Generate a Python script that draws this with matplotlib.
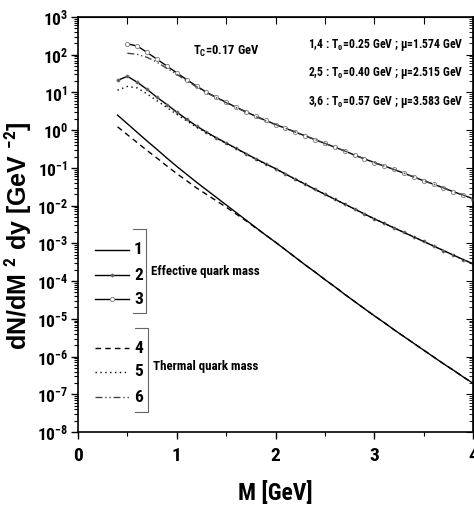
import numpy as np
import matplotlib
matplotlib.use("Agg")
import matplotlib.pyplot as plt
from matplotlib.lines import Line2D
from matplotlib.ticker import LogLocator, NullFormatter, MultipleLocator
from matplotlib import font_manager as fm

# look for a condensed sans face, else fall back to Liberation Sans and shrink the text
names = {f.name for f in fm.fontManager.ttflist}
narrow = next((n for n in ['Liberation Sans Narrow', 'Roboto Condensed', 'Open Sans Condensed',
                           'DejaVu Sans Condensed', 'Noto Sans Condensed'] if n in names), None)
face = narrow or 'Liberation Sans'
k = 1.0 if narrow else 0.82

plt.rcParams['font.family'] = [face, 'DejaVu Sans']
plt.rcParams['font.weight'] = 'bold'
plt.rcParams['mathtext.fontset'] = 'custom'
plt.rcParams['mathtext.bf'] = face + ':bold'
plt.rcParams['mathtext.rm'] = face + ':bold'
plt.rcParams['mathtext.default'] = 'bf'

# invariant mass grid [GeV]
M_a = [0.4, 0.5, 0.6, 0.7, 0.8, 0.9, 1.0, 1.1, 1.2, 1.3, 1.4, 1.5, 1.6, 1.7, 1.8, 1.9,
       2.0, 2.1, 2.2, 2.3, 2.4, 2.5, 2.6, 2.7, 2.8, 2.9, 3.0, 3.1, 3.2, 3.3, 3.4, 3.5,
       3.6, 3.7, 3.8, 3.9, 4.0]
M_b = M_a[1:]

# log10(dN/dM^2 dy)
lg1 = [0.40, 0.17, -0.06, -0.29, -0.51, -0.74, -0.96, -1.17, -1.38, -1.58, -1.78, -1.98,
       -2.18, -2.38, -2.58, -2.78, -2.97, -3.17, -3.37, -3.57, -3.76, -3.96, -4.15, -4.35,
       -4.54, -4.73, -4.92, -5.10, -5.29, -5.47, -5.65, -5.83, -6.01, -6.19, -6.36, -6.54, -6.71]
lg2 = [1.32, 1.43, 1.27, 1.08, 0.87, 0.68, 0.48, 0.29, 0.11, -0.05, -0.20, -0.34,
       -0.48, -0.62, -0.76, -0.89, -1.02, -1.16, -1.30, -1.43, -1.57, -1.70, -1.83, -1.96,
       -2.09, -2.22, -2.35, -2.47, -2.59, -2.71, -2.83, -2.95, -3.07, -3.19, -3.31, -3.43, -3.54]
lg3 = [2.29, 2.23, 2.06, 1.88, 1.70, 1.52, 1.34, 1.17, 1.01, 0.87, 0.74,
       0.61, 0.49, 0.37, 0.26, 0.15, 0.05, -0.05, -0.15, -0.25, -0.35, -0.45, -0.55,
       -0.66, -0.76, -0.86, -0.95, -1.04, -1.14, -1.24, -1.34, -1.43, -1.53, -1.63, -1.72, -1.82]
lg4 = [0.09, -0.12, -0.33, -0.54, -0.74, -0.95, -1.15, -1.34, -1.53, -1.70, -1.87, -2.04,
       -2.22, -2.40, -2.59, -2.78, -2.97, -3.17, -3.37, -3.57, -3.76, -3.96, -4.15, -4.35,
       -4.54, -4.73, -4.92, -5.10, -5.29, -5.47, -5.65, -5.83, -6.01, -6.19, -6.36, -6.54, -6.71]
lg5 = [1.06, 1.16, 1.12, 0.96, 0.78, 0.60, 0.42, 0.25, 0.08, -0.07, -0.21, -0.35,
       -0.49, -0.63, -0.77, -0.90, -1.02, -1.16, -1.30, -1.43, -1.57, -1.70, -1.83, -1.96,
       -2.09, -2.22, -2.35, -2.47, -2.59, -2.71, -2.83, -2.95, -3.07, -3.19, -3.31, -3.43, -3.54]
lg6 = [2.04, 2.01, 1.93, 1.80, 1.64, 1.48, 1.31, 1.15, 1.00, 0.86, 0.73,
       0.60, 0.48, 0.36, 0.25, 0.15, 0.05, -0.05, -0.15, -0.25, -0.35, -0.45, -0.55,
       -0.66, -0.76, -0.86, -0.95, -1.04, -1.14, -1.24, -1.34, -1.43, -1.53, -1.63, -1.72, -1.82]

labels = ['1', '2', '3', '4', '5', '6']
notes = [r'1,4 : T$_{0}$=0.25 GeV ; $\mu$=1.574 GeV',
         r'2,5 : T$_{0}$=0.40 GeV ; $\mu$=2.515 GeV',
         r'3,6 : T$_{0}$=0.57 GeV ; $\mu$=3.583 GeV']

fig = plt.figure(figsize=(4.74, 5.11), dpi=100)
ax = fig.add_axes([0.1646, 0.1546, 0.8334, 0.8121])

lw = 1.0
styles = [
    dict(color='black', lw=lw),
    dict(color='black', lw=lw, marker='o', ms=2.2, mfc='#555555', mec='#777777', mew=0.5),
    dict(color='black', lw=lw, marker='o', ms=3, mfc='white', mec='#888888', mew=0.7),
    dict(color='black', lw=lw, ls=(0, (4, 3))),
    dict(color='black', lw=lw, ls=(0, (1, 2.5))),
    dict(color='#444444', lw=lw, ls=(0, (5, 2, 1, 2, 1, 2))),
]
series = [(M_a, lg1), (M_a, lg2), (M_b, lg3), (M_a, lg4), (M_a, lg5), (M_b, lg6)]
for (m, lg), st in zip(series, styles):
    ax.plot(m, 10 ** np.array(lg), **st)

ax.set_yscale('log')
ax.set_xlim(0, 4)
ax.set_ylim(1e-8, 1e3)
ax.xaxis.set_major_locator(MultipleLocator(1))
ax.xaxis.set_minor_locator(MultipleLocator(0.5))
ax.yaxis.set_major_locator(LogLocator(base=10, numticks=20))
ax.yaxis.set_minor_locator(LogLocator(base=10, subs=np.arange(2, 10), numticks=200))
ax.yaxis.set_minor_formatter(NullFormatter())
ax.tick_params(axis='both', which='both', direction='out', top=False, right=False)
ax.tick_params(axis='both', which='major', length=5, width=1)
ax.tick_params(axis='both', which='minor', length=3, width=0.8)
ax.tick_params(axis='x', labelsize=14 * k, pad=6)
ax.tick_params(axis='y', labelsize=12.5 * k, pad=2)
# mirrored inward ticks on top / right
axt = ax.secondary_xaxis('top')
axt.xaxis.set_major_locator(MultipleLocator(0.5))
axt.tick_params(direction='in', length=5, labeltop=False)
axr = ax.secondary_yaxis('right')
axr.yaxis.set_major_locator(LogLocator(base=10, numticks=20))
axr.yaxis.set_minor_locator(LogLocator(base=10, subs=np.arange(2, 10), numticks=200))
axr.yaxis.set_minor_formatter(NullFormatter())
axr.tick_params(which='major', direction='in', length=5, labelright=False)
axr.tick_params(which='minor', direction='in', length=3)
for s in ax.spines.values():
    s.set_linewidth(1.2)

ax.set_xlabel('M [GeV]', fontsize=17 * k, fontweight='bold')
ax.xaxis.set_label_coords(0.5, -0.118)
# y label in the wide face, like the reference
ax.set_ylabel(r'dN/dM $^{2}$ dy [GeV $^{-2}$]', fontsize=18, fontweight='bold',
              family=['Liberation Sans', 'DejaVu Sans'])
ax.yaxis.set_label_coords(-0.112, 0.472)

ax.text(0.291, 0.908, r'T$_{C}$=0.17 GeV', transform=ax.transAxes, fontsize=9 * k)
for i, t in enumerate(notes):
    ax.text(0.975, 0.925 - 0.068 * i, t, transform=ax.transAxes, fontsize=8.5 * k, ha='right')

# hand-placed legend entries, same styles as the curves
ly = [0.4386, 0.378, 0.320, 0.202, 0.145, 0.084]
for lab, st, y in zip(labels, styles, ly):
    st = dict(st)
    if 'marker' in st:
        st['markevery'] = [1]
    ax.add_line(Line2D([0.043, 0.086, 0.129], [y, y, y], transform=ax.transAxes, **st))
    ax.text(0.142, y, lab, transform=ax.transAxes, fontsize=12.5 * k, va='center')

# group brackets
for (y0, y1, xb, txt, ty) in [(0.489, 0.287, 0.172, 'Effective quark mass', 0.386),
                               (0.251, 0.048, 0.177, 'Thermal quark mass', 0.157)]:
    ax.add_line(Line2D([xb - 0.033, xb, xb, xb - 0.033], [y0, y0, y1, y1],
                       transform=ax.transAxes, color='#666666', lw=0.8))
    ax.text(xb + 0.012, ty, txt, transform=ax.transAxes, fontsize=9.3 * k, va='center')

fig.savefig('out.png', dpi=100)
